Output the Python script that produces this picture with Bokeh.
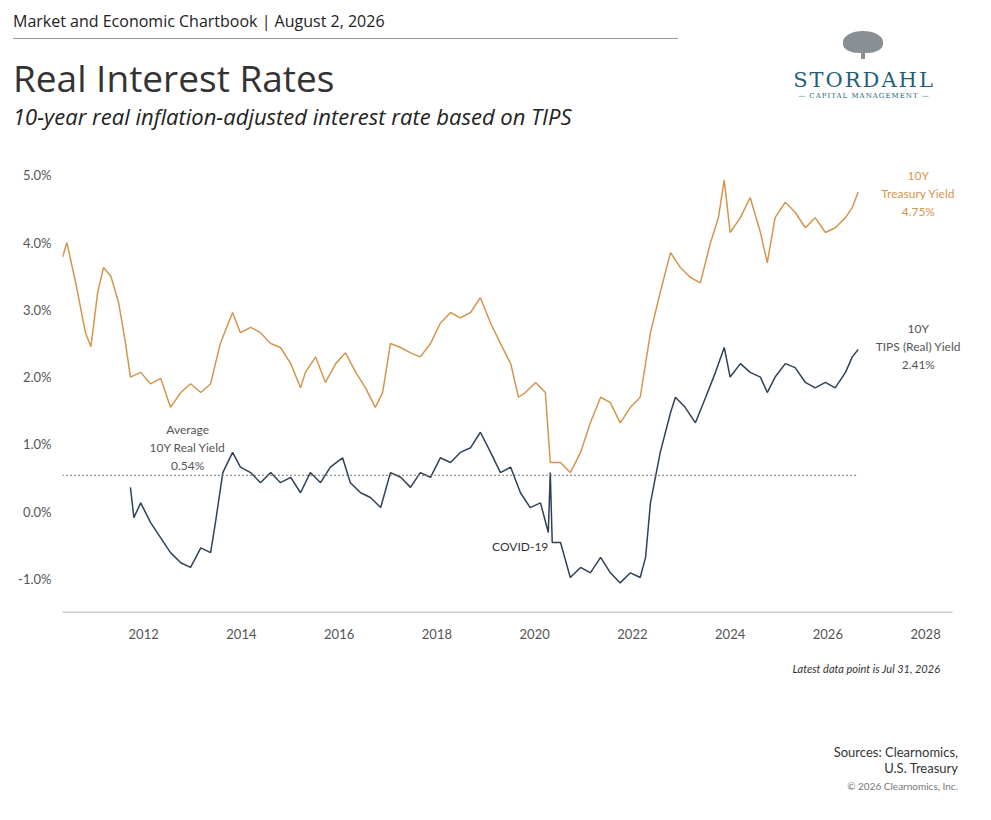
from bokeh.embed import file_html
from bokeh.layouts import column
from bokeh.models import ColumnDataSource, CustomJSTickFormatter, Div, FixedTicker, Label
from bokeh.plotting import figure
from bokeh.resources import INLINE

ORANGE = "#D3964E"
NAVY = "#2F4256"
FONT = "Lato"

# 10Y nominal treasury yield
tsy_year = [2010.34, 2010.43, 2010.61, 2010.81, 2010.92, 2011.06, 2011.18, 2011.33, 2011.49,
            2011.63, 2011.73, 2011.94, 2012.14, 2012.35, 2012.55, 2012.76, 2012.96, 2013.17,
            2013.37, 2013.57, 2013.82, 2013.98, 2014.19, 2014.39, 2014.60, 2014.80, 2015.01,
            2015.21, 2015.31, 2015.52, 2015.72, 2015.93, 2016.13, 2016.34, 2016.54, 2016.74,
            2016.89, 2017.05, 2017.26, 2017.46, 2017.66, 2017.87, 2018.07, 2018.28, 2018.48,
            2018.69, 2018.89, 2019.10, 2019.30, 2019.51, 2019.67, 2019.81, 2020.02, 2020.22,
            2020.32, 2020.53, 2020.73, 2020.94, 2021.14, 2021.35, 2021.55, 2021.75, 2021.96,
            2022.16, 2022.37, 2022.57, 2022.78, 2022.98, 2023.19, 2023.39, 2023.60, 2023.76,
            2023.88, 2024.00, 2024.21, 2024.41, 2024.62, 2024.76, 2024.92, 2025.13, 2025.33,
            2025.54, 2025.74, 2025.95, 2026.15, 2026.36, 2026.50, 2026.62]
tsy_val = [3.78, 4.00, 3.40, 2.66, 2.45, 3.26, 3.63, 3.50, 3.10,
           2.50, 2.00, 2.07, 1.90, 1.98, 1.55, 1.77, 1.90, 1.77,
           1.90, 2.50, 2.96, 2.66, 2.74, 2.66, 2.50, 2.44, 2.20,
           1.84, 2.07, 2.30, 1.92, 2.20, 2.36, 2.07, 1.84, 1.55,
           1.77, 2.50, 2.44, 2.36, 2.30, 2.50, 2.80, 2.96, 2.88,
           2.96, 3.18, 2.80, 2.50, 2.20, 1.70, 1.77, 1.92, 1.77,
           0.73, 0.73, 0.58, 0.88, 1.32, 1.70, 1.62, 1.32, 1.55,
           1.70, 2.66, 3.26, 3.85, 3.63, 3.48, 3.40, 4.00, 4.37,
           4.93, 4.15, 4.37, 4.67, 4.15, 3.70, 4.37, 4.60, 4.45,
           4.22, 4.37, 4.15, 4.22, 4.37, 4.52, 4.75]

# 10Y TIPS real yield
tips_year = [2011.73, 2011.80, 2011.94, 2012.14, 2012.35, 2012.55, 2012.76, 2012.96, 2013.17,
             2013.37, 2013.47, 2013.62, 2013.82, 2013.98, 2014.19, 2014.39, 2014.60, 2014.80,
             2015.01, 2015.21, 2015.41, 2015.62, 2015.82, 2016.07, 2016.23, 2016.44, 2016.64,
             2016.85, 2017.05, 2017.26, 2017.46, 2017.66, 2017.87, 2018.07, 2018.28, 2018.48,
             2018.69, 2018.89, 2019.10, 2019.30, 2019.51, 2019.71, 2019.91, 2020.12, 2020.28,
             2020.32, 2020.36, 2020.53, 2020.73, 2020.94, 2021.14, 2021.35, 2021.55, 2021.75,
             2021.96, 2022.16, 2022.27, 2022.37, 2022.57, 2022.78, 2022.88, 2023.08, 2023.29,
             2023.50, 2023.70, 2023.88, 2024.00, 2024.21, 2024.41, 2024.62, 2024.76, 2024.92,
             2025.13, 2025.33, 2025.54, 2025.74, 2025.95, 2026.15, 2026.36, 2026.50, 2026.62]
tips_val = [0.36, -0.09, 0.13, -0.16, -0.39, -0.61, -0.76, -0.83, -0.54,
            -0.61, -0.16, 0.58, 0.88, 0.66, 0.58, 0.43, 0.58, 0.43,
            0.51, 0.28, 0.58, 0.43, 0.66, 0.80, 0.43, 0.28, 0.21,
            0.06, 0.58, 0.51, 0.36, 0.58, 0.51, 0.80, 0.73, 0.88,
            0.95, 1.18, 0.88, 0.58, 0.66, 0.28, 0.06, 0.13, -0.31,
            0.58, -0.46, -0.46, -0.98, -0.83, -0.91, -0.68, -0.91, -1.06,
            -0.91, -0.98, -0.68, 0.13, 0.88, 1.47, 1.70, 1.55, 1.32,
            1.70, 2.07, 2.44, 2.00, 2.20, 2.07, 2.00, 1.77, 2.00,
            2.20, 2.14, 1.92, 1.84, 1.92, 1.84, 2.07, 2.30, 2.41]

avg_real = 0.54
y_ticks = [-1, 0, 1, 2, 3, 4, 5]
x_ticks = [2012, 2014, 2016, 2018, 2020, 2022, 2024, 2026, 2028]
x_start, x_axis_end = 2010.34, 2028.55

header = Div(width=975, height=142, text="""
<div style="position:relative;width:975px;height:142px;font-family:'Open Sans';">
  <div style="position:absolute;left:8px;top:5px;font-size:16px;color:#222;">Market and Economic Chartbook | August 2, 2026</div>
  <div style="position:absolute;left:8px;top:33px;width:665px;border-top:1px solid #999;"></div>
  <div style="position:absolute;left:8px;top:47px;font-size:37px;color:#333;">Real Interest Rates</div>
  <div style="position:absolute;left:8px;top:96px;font-size:22px;font-style:italic;color:#222;">10-year real inflation-adjusted interest rate based on TIPS</div>
  <div style="position:absolute;left:838px;top:26px;width:40px;height:22px;border-radius:50% 50% 40% 40%;background:#8a8f94;"></div>
  <div style="position:absolute;left:856px;top:46px;width:4px;height:8px;background:#8a8f94;"></div>
  <div style="position:absolute;left:784px;top:60px;width:150px;text-align:center;font-family:'DejaVu Serif';font-size:21px;letter-spacing:2px;color:#1f5f7a;">STORDAHL</div>
  <div style="position:absolute;left:784px;top:86px;width:150px;text-align:center;font-family:'DejaVu Serif';font-size:7px;letter-spacing:1px;color:#1f5f7a;">&mdash; CAPITAL MANAGEMENT &mdash;</div>
</div>""")

p = figure(width=975, height=500, x_range=(x_start, 2029.0), y_range=(-1.5, 5.19),
           output_backend="svg", toolbar_location=None,
           min_border_left=62, min_border_right=1, min_border_top=10, min_border_bottom=40)
p.outline_line_color = None
p.grid.grid_line_color = None

p.line("x", "y", source=ColumnDataSource(dict(x=tsy_year, y=tsy_val)), line_color=ORANGE, line_width=1.5)
p.line("x", "y", source=ColumnDataSource(dict(x=tips_year, y=tips_val)), line_color=NAVY, line_width=1.5)
p.line([tips_year[0] - 1.4, tsy_year[-1]], [avg_real, avg_real], line_color="#777", line_dash="2 2", line_width=1)
# baseline standing in for the x axis line, which stops short of the frame edge
p.line([x_start, x_axis_end], [-1.5, -1.5], line_color="#999", line_width=1.5)

p.yaxis.ticker = FixedTicker(ticks=y_ticks)
p.yaxis.formatter = CustomJSTickFormatter(code="return tick.toFixed(1) + '%';")
p.yaxis.axis_line_color = None
p.yaxis.major_tick_line_color = None
p.yaxis.minor_tick_line_color = None
p.xaxis.ticker = FixedTicker(ticks=x_ticks)
p.xaxis.axis_line_color = None
p.xaxis.major_tick_line_color = None
p.xaxis.minor_tick_line_color = None
for ax in (p.xaxis, p.yaxis):
    ax.major_label_text_font = FONT
    ax.major_label_text_font_size = "13px"
    ax.major_label_text_color = "#555"
p.xaxis.major_label_standoff = 10

def note(x, y, txt, color, align="center"):
    p.add_layout(Label(x=x, y=y, text=txt, text_color=color, text_font=FONT,
                       text_font_size="12px", text_align=align, text_baseline="middle"))

for i, t in enumerate(["10Y", "Treasury Yield", f"{tsy_val[-1]:.2f}%"]):
    note(2027.85, 5.0 - i * 0.27, t, ORANGE)
for i, t in enumerate(["10Y", "TIPS (Real) Yield", f"{tips_val[-1]:.2f}%"]):
    note(2027.85, 2.72 - i * 0.27, t, "#555")
for i, t in enumerate(["Average", "10Y Real Yield", f"{avg_real:.2f}%"]):
    note(2012.9, 1.22 - i * 0.27, t, "#555")
note(2020.28, -0.52, "COVID-19", "#333", align="right")

footer = Div(width=975, height=160, text="""
<div style="position:relative;width:975px;height:160px;font-family:'Lato';color:#333;">
  <div style="position:absolute;right:40px;top:4px;font-size:11px;font-style:italic;">Latest data point is Jul 31, 2026</div>
  <div style="position:absolute;right:22px;top:87px;font-size:13px;text-align:right;line-height:16px;">Sources: Clearnomics,<br>U.S. Treasury</div>
  <div style="position:absolute;right:22px;top:122px;font-size:10px;color:#777;">&copy; 2026 Clearnomics, Inc.</div>
</div>""")

layout = column(header, p, footer, spacing=0)
open("out.html", "w").write(file_html(layout, INLINE))
